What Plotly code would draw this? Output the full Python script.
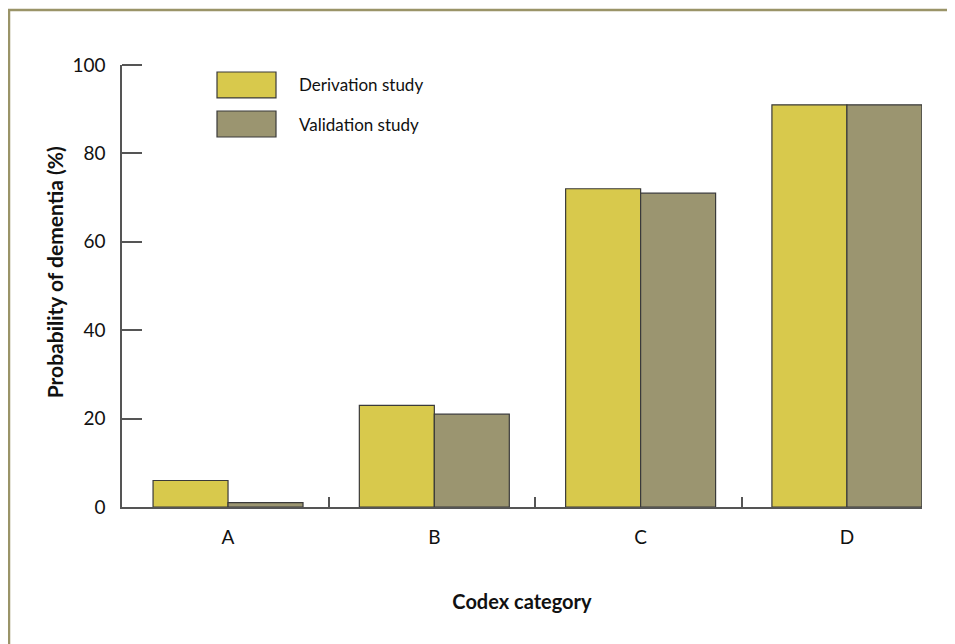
import plotly.graph_objects as go

categories = ["A", "B", "C", "D"]
derivation = [6, 23, 72, 91]
validation = [1, 21, 71, 91]
series_names = ["Derivation study", "Validation study"]
y_ticks = [20, 40, 60, 80, 100]

col_der = "#d8c94c"
col_val = "#9b9570"
line_col = "#3a3a3a"
axis_col = "#555555"
font_family = "Lato, 'Open Sans', sans-serif"

xpos = list(range(len(categories)))

fig = go.Figure()
fig.add_trace(go.Bar(x=xpos, y=derivation, name=series_names[0], marker=dict(color=col_der, line=dict(color=line_col, width=1.2)), showlegend=False))
fig.add_trace(go.Bar(x=xpos, y=validation, name=series_names[1], marker=dict(color=col_val, line=dict(color=line_col, width=1.2)), showlegend=False))

# manual legend
leg_items = [(series_names[0], col_der, 0.9548), (series_names[1], col_val, 0.8665)]
for name, col, yc in leg_items:
    fig.add_shape(type="rect", xref="paper", yref="paper",
                  x0=0.11875, x1=0.1925, y0=yc - 0.0294, y1=yc + 0.0294,
                  fillcolor=col, line=dict(color=line_col, width=1.2))
    fig.add_annotation(xref="paper", yref="paper", x=0.21875, y=yc, text=name,
                       showarrow=False, xanchor="left", yanchor="middle",
                       font=dict(size=17, color="#111", family=font_family))

# y-axis title
fig.add_annotation(xref="paper", yref="paper", x=-0.0845, y=0.532,
                   text="<b>Probability of dementia (%)</b>", textangle=-90,
                   showarrow=False, xanchor="center", yanchor="middle",
                   font=dict(size=21, color="#111", family=font_family))

# outer olive frame
fig.add_shape(type="rect", xref="paper", yref="paper",
              x0=-0.14125, x1=1.2, y0=-0.5, y1=1.1244,
              line=dict(color="#9a9468", width=2.5), fillcolor="rgba(0,0,0,0)", layer="below")

fig.update_layout(
    width=955, height=644,
    margin=dict(l=114, r=41, t=57, b=145),
    paper_bgcolor="white", plot_bgcolor="white",
    barmode="group", bargap=0.273, bargroupgap=0,
    font=dict(family=font_family, color="#111"),
    xaxis=dict(
        range=[-0.514, 3.364], tickvals=xpos, ticktext=categories,
        ticks="", showgrid=False, zeroline=False,
        showline=True, linecolor=axis_col, linewidth=1.5,
        tickfont=dict(size=19, color="#111"), ticklabelstandoff=12,
        minor=dict(tickvals=[0.49, 1.49, 2.49], ticks="inside", ticklen=10, tickcolor=axis_col, tickwidth=1.5),
        title=dict(text="<b>Codex category</b>", font=dict(size=20, color="#111"), standoff=48),
    ),
    yaxis=dict(
        range=[0, 100], tickvals=[0] + y_ticks, ticktext=["0"] + [str(v) for v in y_ticks],
        ticks="", showgrid=False, zeroline=False,
        showline=True, linecolor=axis_col, linewidth=1.5,
        tickfont=dict(size=19, color="#111"), ticklabelstandoff=11,
        minor=dict(tickvals=y_ticks, ticks="inside", ticklen=20, tickcolor=axis_col, tickwidth=1.5),
    ),
)

fig.write_html("out.html")
